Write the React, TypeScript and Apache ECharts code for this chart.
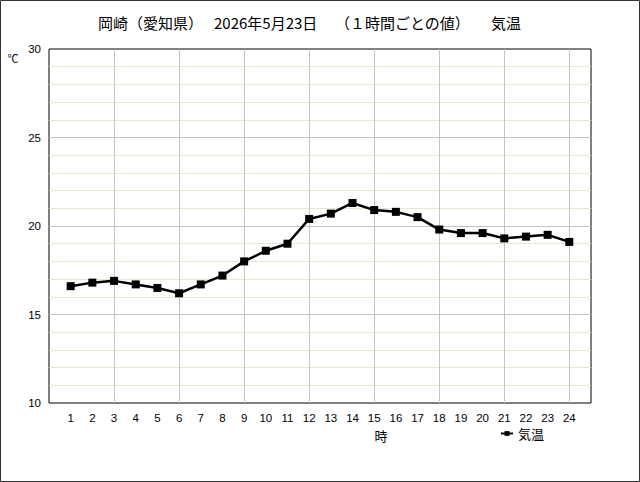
import React, { useEffect, useRef } from "react";
import * as echarts from "echarts";

const hours = [1, 2, 3, 4, 5, 6, 7, 8, 9, 10, 11, 12, 13, 14, 15, 16, 17, 18, 19, 20, 21, 22, 23, 24];
const temperature = [16.6, 16.8, 16.9, 16.7, 16.5, 16.2, 16.7, 17.2, 18.0, 18.6, 19.0, 20.4, 20.7, 21.3, 20.9, 20.8, 20.5, 19.8, 19.6, 19.6, 19.3, 19.4, 19.5, 19.1];
const titleParts = ["岡崎（愛知県）", "2026年5月23日", "（１時間ごとの値）", "気温"];
const seriesName = "気温";
const xName = "時";
const yUnit = "℃";

const CJK = "'Noto Sans CJK JP', sans-serif";
const NUM = "'Liberation Sans', Arial, sans-serif";

export default function App() {
  const ref = useRef<HTMLDivElement>(null);
  useEffect(() => {
    if (!ref.current) return;
    const chart = echarts.init(ref.current, null, { renderer: "svg" });
    const titleX = [98, 214, 335, 491];
    chart.setOption({
      animation: false,
      backgroundColor: "#ffffff",
      grid: {
        left: 49,
        top: 49,
        width: 542,
        height: 354,
        show: true,
        borderColor: "#000000",
        borderWidth: 1,
        backgroundColor: "#ffffff",
        z: 0,
      },
      legend: {
        data: [seriesName],
        left: 500,
        top: 427,
        itemWidth: 12,
        itemHeight: 6,
        itemGap: 4,
        textStyle: { fontFamily: CJK, fontSize: 13, color: "#000" },
        padding: 0,
      },
      xAxis: [
        {
          type: "value",
          min: 0,
          max: 25,
          interval: 1,
          axisLine: { show: false },
          axisTick: { show: false },
          splitLine: { show: false },
          axisLabel: {
            margin: 9,
            fontFamily: NUM,
            fontSize: 11.5,
            color: "#000",
            formatter: (v: number) => (hours.indexOf(v) >= 0 ? String(v) : ""),
          },
        },
        {
          type: "value",
          position: "bottom",
          min: 0,
          max: 25,
          interval: 3,
          z: 2,
          axisLine: { show: false },
          axisTick: { show: false },
          axisLabel: { show: false },
          splitLine: {
            show: true,
            showMinLine: false,
            showMaxLine: false,
            lineStyle: { color: "#c4c4c4", width: 1 },
          },
        },
      ],
      yAxis: [
        {
          type: "value",
          position: "left",
          min: 10,
          max: 30,
          interval: 1,
          z: 1,
          axisLine: { show: false },
          axisTick: { show: false },
          axisLabel: { show: false },
          splitLine: {
            show: true,
            showMinLine: false,
            showMaxLine: false,
            lineStyle: { color: "#ebe7d2", width: 1 },
          },
        },
        {
          type: "value",
          position: "left",
          min: 10,
          max: 30,
          interval: 5,
          z: 2,
          axisLine: { show: false },
          axisTick: { show: false },
          axisLabel: { margin: 8, fontFamily: NUM, fontSize: 11.5, color: "#000" },
          splitLine: {
            show: true,
            showMinLine: false,
            showMaxLine: false,
            lineStyle: { color: "#c4c4c4", width: 1 },
          },
        },
      ],
      series: [
        {
          name: seriesName,
          type: "line",
          xAxisIndex: 0,
          yAxisIndex: 0,
          data: hours.map((h, i) => [h, temperature[i]]),
          symbol: "rect",
          symbolSize: 8,
          color: "#000000",
          itemStyle: { color: "#000000" },
          lineStyle: { color: "#000000", width: 2.5 },
          z: 5,
        },
      ],
      graphic: [
        {
          type: "rect",
          shape: { x: 0.5, y: 0.5, width: 639, height: 481 },
          style: { fill: "none", stroke: "#333333", lineWidth: 1 },
          silent: true,
          z: 100,
        },
        ...titleParts.map((t, i) => ({
          type: "text",
          x: titleX[i],
          y: 22,
          style: {
            text: t,
            fontFamily: CJK,
            fontSize: 15,
            fill: "#000",
            verticalAlign: "middle",
          },
        })),
        {
          type: "text",
          x: 13,
          y: 58,
          style: {
            text: yUnit,
            fontFamily: CJK,
            fontSize: 11,
            fill: "#000",
            align: "center",
            verticalAlign: "middle",
          },
        },
        {
          type: "text",
          x: 381,
          y: 435,
          style: {
            text: xName,
            fontFamily: CJK,
            fontSize: 13,
            fill: "#000",
            align: "center",
            verticalAlign: "middle",
          },
        },
      ],
    });
    return () => chart.dispose();
  }, []);
  return (
    <div
      ref={ref}
      style={{ position: "fixed", left: 0, top: 0, width: 640, height: 482 }}
    />
  );
}
